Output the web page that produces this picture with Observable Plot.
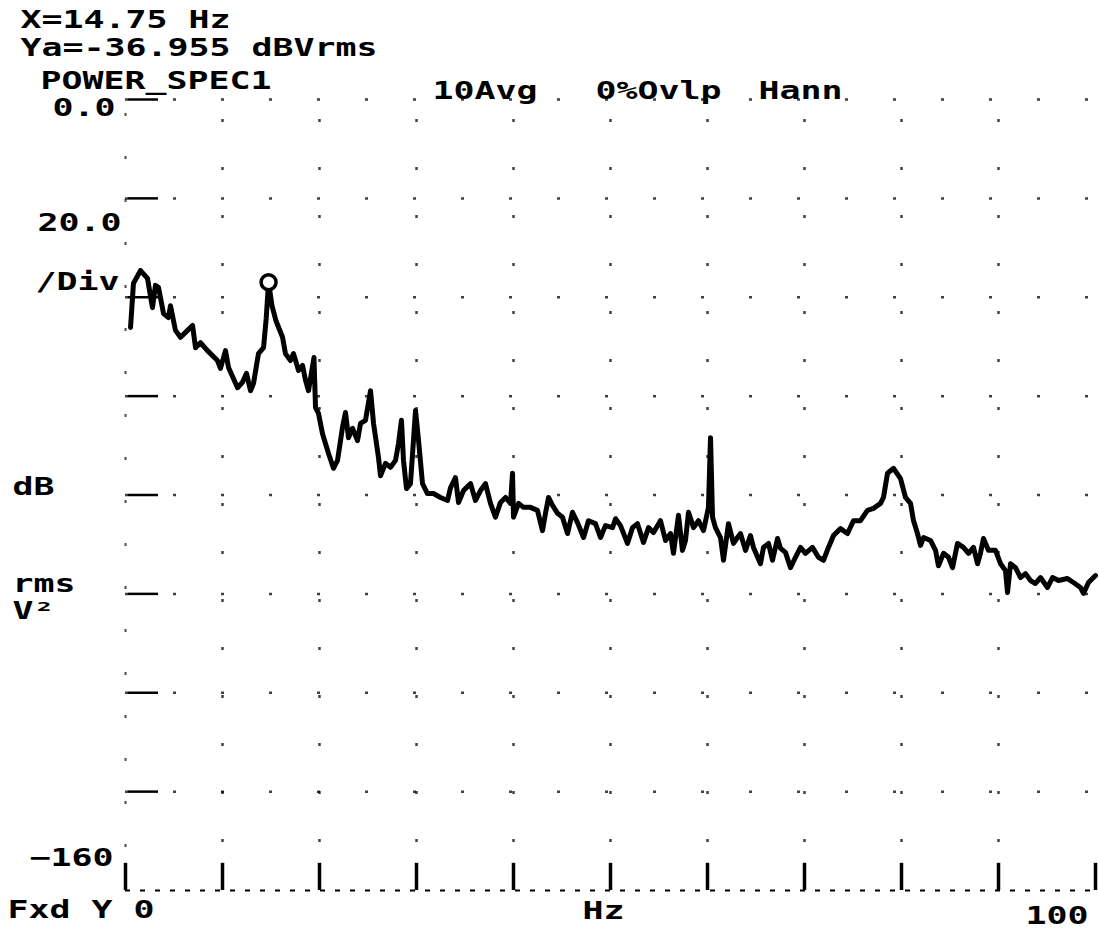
<!DOCTYPE html>
<html><head><meta charset="utf-8">
<script src="https://cdn.jsdelivr.net/npm/d3@7"></script>
<script src="https://cdn.jsdelivr.net/npm/@observablehq/plot@0.6"></script>
<style>html,body{margin:0;padding:0;background:#fff}</style>
</head><body><div id="chart"></div>
<script>
// ---- data (frequency in Hz, level in dB V²rms) ----
const freqHz = [0.52,0.82,1.55,2.27,2.78,3.09,3.40,3.92,4.43,4.64,
5.15,5.67,6.19,6.91,7.22,7.73,8.45,9.48,9.79,10.31,
10.62,11.55,12.06,12.47,12.89,13.20,13.71,14.23,14.50,14.75,
15.10,15.50,16.19,16.49,17.01,17.32,17.84,18.25,18.56,18.87,
19.43,19.59,19.90,20.31,20.93,21.44,21.86,22.37,22.68,22.99,
23.40,23.92,24.23,24.74,25.26,25.57,26.08,26.29,26.80,27.32,
27.84,28.14,28.45,28.66,28.97,29.38,29.90,30.21,30.62,31.13,
31.75,32.47,33.20,33.51,34.02,34.33,34.85,35.57,36.08,36.60,
37.11,37.63,38.14,38.66,39.18,39.69,39.90,40.00,40.52,41.03,
41.75,42.47,42.99,43.30,43.61,44.02,44.54,45.05,45.57,46.08,
46.60,47.22,47.73,48.45,48.97,49.48,50.21,50.52,51.03,51.75,
52.27,52.78,53.40,53.92,54.43,55.15,55.67,56.19,56.49,57.01,
57.42,57.73,58.04,58.56,59.07,59.59,60.10,60.31,60.52,60.82,
61.34,61.65,62.16,62.68,63.09,63.40,63.92,64.43,64.74,65.46,
65.77,66.29,66.70,67.22,67.53,68.04,68.56,69.07,69.59,70.10,
70.82,71.44,71.96,72.47,72.99,73.71,74.43,75.05,75.77,76.49,
77.11,77.84,78.14,78.56,79.18,79.90,80.41,80.93,81.24,81.65,
81.96,82.27,82.99,83.51,83.81,84.33,84.85,85.26,85.77,86.39,
86.91,87.42,87.84,88.14,88.45,88.97,89.69,90.21,90.72,90.93,
91.24,91.75,92.27,92.78,93.30,93.81,94.33,95.05,95.57,96.19,
97.11,97.73,98.45,98.76,99.28,100.0];
const levelDb = [-46.1,-37.2,-34.6,-36.2,-42.1,-37.6,-38.0,-43.3,-44.1,-41.7,
-46.7,-48.1,-47.1,-45.7,-50.2,-49.2,-50.8,-52.8,-54.4,-50.8,
-54.2,-58.3,-57.2,-55.4,-58.9,-57.4,-51.4,-50.2,-44.4,-36.96,
-41.7,-44.7,-48.1,-51.4,-52.8,-51.4,-54.8,-53.8,-56.8,-58.9,
-52.2,-62.3,-63.5,-67.6,-71.6,-74.6,-73.0,-66.3,-63.3,-68.4,
-66.5,-69.0,-65.5,-64.9,-58.9,-65.5,-72.4,-76.1,-73.6,-74.4,
-73.0,-69.6,-64.9,-73.0,-78.7,-77.7,-62.9,-69.0,-77.7,-79.7,
-79.7,-80.5,-81.1,-78.5,-76.5,-81.5,-79.1,-77.7,-81.1,-79.1,
-77.7,-81.7,-84.5,-81.5,-80.5,-81.7,-75.6,-84.5,-81.7,-82.5,
-82.5,-83.1,-87.2,-83.7,-80.5,-82.1,-83.7,-84.5,-87.8,-83.5,
-85.6,-88.6,-85.2,-85.8,-88.6,-86.2,-86.6,-84.8,-86.2,-89.8,
-86.6,-85.8,-89.6,-86.6,-87.6,-85.2,-89.2,-87.8,-91.8,-84.1,
-91.2,-89.2,-83.5,-86.6,-85.2,-87.2,-82.5,-68.4,-84.5,-86.6,
-88.6,-93.2,-85.8,-89.8,-88.6,-87.8,-91.2,-88.2,-90.6,-93.9,
-90.6,-89.8,-93.2,-88.8,-90.8,-91.6,-94.7,-92.6,-90.6,-91.8,
-90.6,-92.6,-93.2,-90.6,-88.2,-86.8,-87.8,-85.2,-85.2,-83.1,
-82.7,-81.7,-80.5,-75.6,-74.6,-76.7,-80.5,-81.7,-85.2,-87.8,
-90.2,-88.6,-89.2,-91.2,-94.3,-91.8,-92.6,-94.7,-89.8,-90.6,
-91.8,-90.6,-93.9,-91.8,-88.8,-91.2,-91.2,-93.9,-95.3,-99.7,
-93.9,-94.7,-96.7,-95.9,-97.3,-97.9,-96.7,-98.7,-96.7,-97.3,
-96.9,-97.7,-98.7,-99.9,-97.7,-96.3];

const markerHz = 14.75;
const markerDb = -36.955;
const gridDb = [0, -20, -40, -60, -80, -100, -120, -140];
const gridHz = [10, 20, 30, 40, 50, 60, 70, 80, 90];
const tickHz = [0, 10, 20, 30, 40, 50, 60, 70, 80, 90, 100];
const headerLines = [`X=${markerHz} Hz`, `Ya=${markerDb} dBVrms`, "POWER_SPEC1"];
const setupLabels = ["10Avg", "0%Ovlp", "Hann"];

const spectrum = freqHz.map((f, i) => ({f, db: levelDb[i]}));

const font = {fontFamily: "DejaVu Sans Mono", fontWeight: "bold", fontSize: 24, fill: "black"};

const chart = Plot.plot({
  width: 1099,
  height: 931,
  marginLeft: 125,
  marginRight: 4,
  marginTop: 99,
  marginBottom: 41,
  x: {domain: [0, 100], axis: null},
  y: {domain: [-160, 0], axis: null},
  style: {background: "white", color: "black"},
  marks: [
    // sparse plotter-style grid
    Plot.ruleY(gridDb, {x1: 0, x2: 100, stroke: "black", strokeWidth: 2.5, strokeDasharray: "3,45", strokeOpacity: 0.75}),
    Plot.ruleY(gridDb, {x1: 0.3, x2: 3.4, stroke: "black", strokeWidth: 2.5}),
    Plot.ruleX(gridHz, {y1: -160, y2: 0, stroke: "black", strokeWidth: 2.5, strokeDasharray: "3,45", strokeOpacity: 0.75}),
    Plot.ruleX([0], {y1: -160, y2: 0, stroke: "black", strokeWidth: 2, strokeDasharray: "3,40", strokeOpacity: 0.7}),
    // bottom axis
    Plot.ruleY([-160], {x1: 0, x2: 100, stroke: "black", strokeWidth: 2, strokeDasharray: "5,10"}),
    Plot.ruleX(tickHz, {y1: -160, y2: -154.5, stroke: "black", strokeWidth: 3.5}),
    // spectrum trace
    Plot.line(spectrum, {x: "f", y: "db", stroke: "black", strokeWidth: 5, strokeLinejoin: "round", strokeLinecap: "round"}),
    // marker
    Plot.dot([{f: markerHz, db: markerDb}], {x: "f", y: "db", r: 7.5, stroke: "black", strokeWidth: 3.5, fill: "white"}),
    // header text
    Plot.text([headerLines[0]], {frameAnchor: "top-left", textAnchor: "start", lineAnchor: "bottom", dx: -105, dy: -72, ...font}),
    Plot.text([headerLines[1]], {frameAnchor: "top-left", textAnchor: "start", lineAnchor: "bottom", dx: -105, dy: -44, ...font}),
    Plot.text([headerLines[2]], {frameAnchor: "top-left", textAnchor: "start", lineAnchor: "bottom", dx: -85, dy: -11, ...font}),
    Plot.text([setupLabels[0]], {frameAnchor: "top-left", textAnchor: "start", lineAnchor: "bottom", dx: 307, dy: -1, ...font}),
    Plot.text([setupLabels[1]], {frameAnchor: "top-left", textAnchor: "start", lineAnchor: "bottom", dx: 470, dy: -1, ...font}),
    Plot.text([setupLabels[2]], {frameAnchor: "top-left", textAnchor: "start", lineAnchor: "bottom", dx: 633, dy: -1, ...font}),
    // y-axis annotations
    Plot.text([{x: 0, y: 0, t: "0.0"}], {x: "x", y: "y", text: "t", textAnchor: "end", lineAnchor: "bottom", dx: -10, dy: 16, ...font}),
    Plot.text([{x: 0, y: -20, t: "20.0"}], {x: "x", y: "y", text: "t", textAnchor: "end", lineAnchor: "bottom", dx: -4, dy: 33, ...font}),
    Plot.text([{x: 0, y: -40, t: "/Div"}], {x: "x", y: "y", text: "t", textAnchor: "start", lineAnchor: "bottom", dx: -90, dy: -7, ...font}),
    Plot.text([{x: 0, y: -80, t: "dB"}], {x: "x", y: "y", text: "t", textAnchor: "start", lineAnchor: "bottom", dx: -113, dy: 0, ...font}),
    Plot.text([{x: 0, y: -100, t: "rms"}], {x: "x", y: "y", text: "t", textAnchor: "start", lineAnchor: "bottom", dx: -113, dy: -2, ...font}),
    Plot.text([{x: 0, y: -100, t: "V²"}], {x: "x", y: "y", text: "t", textAnchor: "start", lineAnchor: "bottom", dx: -113, dy: 25, ...font}),
    Plot.text([{x: 0, y: -160, t: "\u2212160"}], {x: "x", y: "y", text: "t", textAnchor: "end", lineAnchor: "bottom", dx: -12, dy: -25, ...font}),
    // x-axis annotations
    Plot.text([{x: 0, y: -160, t: "Fxd Y 0"}], {x: "x", y: "y", text: "t", textAnchor: "start", lineAnchor: "bottom", dx: -118, dy: 27, ...font}),
    Plot.text([{x: 50, y: -160, t: "Hz"}], {x: "x", y: "y", text: "t", textAnchor: "middle", lineAnchor: "bottom", dx: -7, dy: 28, ...font}),
    Plot.text([{x: 100, y: -160, t: "100"}], {x: "x", y: "y", text: "t", textAnchor: "end", lineAnchor: "bottom", dx: -7, dy: 33, ...font})
  ]
});

// widen the monospace glyphs to the plotter's 21px character cell
chart.querySelectorAll("text").forEach(t => {
  const n = [...t.textContent].length;
  if (n > 0) {
    t.setAttribute("textLength", n * 21);
    t.setAttribute("lengthAdjust", "spacingAndGlyphs");
  }
});

document.getElementById("chart").appendChild(chart);
</script></body></html>
